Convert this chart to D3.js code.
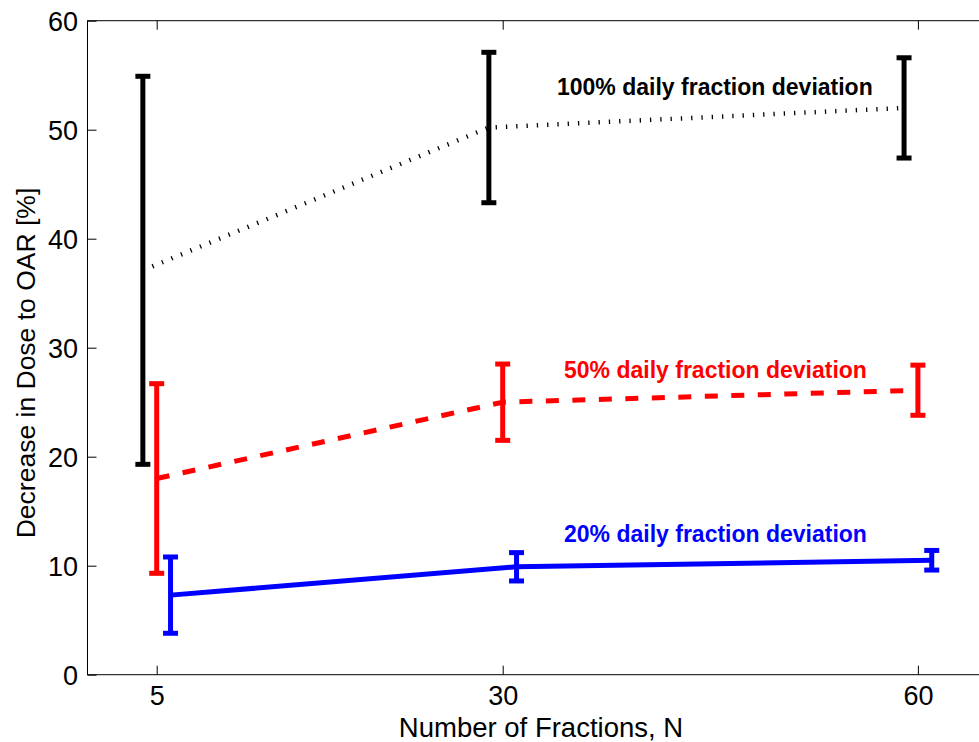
<!DOCTYPE html>
<html>
<head>
<meta charset="utf-8">
<script src="https://cdn.jsdelivr.net/npm/d3@7"></script>
<style>
  html, body { margin: 0; padding: 0; background: #fff; }
  svg { display: block; }
  text { font-family: "Liberation Sans", Arial, Helvetica, sans-serif; }
</style>
</head>
<body>
<svg id="chart" width="979" height="742"></svg>
<script>
// Fraction counts shown on the x axis
const xTicks = [5, 30, 60];
const yTicks = [0, 10, 20, 30, 40, 50, 60];

// Each series is plotted slightly offset in x so the error bars don't overlap
const xBlack = [4, 29, 59];
const xRed = [5, 30, 60];
const xBlue = [6, 31, 61];

// Mean decrease in OAR dose [%] and half-width of the error bars
const meanBlack = [37.1, 50.2, 52.0];
const errBlack = [17.8, 6.9, 4.6];
const meanRed = [18.0, 25.0, 26.1];
const errRed = [8.7, 3.5, 2.3];
const meanBlue = [7.3, 9.9, 10.5];
const errBlue = [3.5, 1.3, 0.9];

const seriesLabels = [
  "100% daily fraction deviation",
  "50% daily fraction deviation",
  "20% daily fraction deviation"
];

const svg = d3.select("#chart");
const W = 979, H = 742;
svg.append("rect").attr("width", W).attr("height", H).attr("fill", "#fff");

const plotLeft = 87.5, plotTop = 20.7, plotBottom = 674.7;
const pxPerUnit = 13.84;
const x = d3.scaleLinear().domain([0, 65]).range([plotLeft, plotLeft + 65 * pxPerUnit]);
const y = d3.scaleLinear().domain([0, 60]).range([plotBottom, plotTop]);

const tickFont = 27;

// Axes box (right edge falls beyond the canvas)
const axisG = svg.append("g");
axisG.append("rect")
  .attr("x", x(0)).attr("y", y(60))
  .attr("width", x(65) - x(0)).attr("height", y(0) - y(60))
  .attr("fill", "none").attr("stroke", "#000").attr("stroke-width", 1);

// Bottom axis with inward ticks, mirrored on top
const xAxisB = d3.axisBottom(x).tickValues(xTicks).tickSize(-9).tickFormat(d3.format("d"));
const gxb = axisG.append("g").attr("transform", `translate(0,${y(0)})`).call(xAxisB);
gxb.select(".domain").remove();
gxb.selectAll("line").attr("stroke", "#000");
gxb.selectAll("text").attr("font-size", tickFont).attr("fill", "#000")
  .attr("y", 30.8).attr("dy", null);

const xAxisT = d3.axisTop(x).tickValues(xTicks).tickSize(-9).tickFormat("");
const gxt = axisG.append("g").attr("transform", `translate(0,${y(60)})`).call(xAxisT);
gxt.select(".domain").remove();
gxt.selectAll("line").attr("stroke", "#000");

// Left axis with inward ticks
const yAxisL = d3.axisLeft(y).tickValues(yTicks).tickSize(-9).tickFormat(d3.format("d"));
const gyl = axisG.append("g").attr("transform", `translate(${x(0)},0)`).call(yAxisL);
gyl.select(".domain").remove();
gyl.selectAll("line").attr("stroke", "#000");
gyl.selectAll("text").attr("font-size", tickFont).attr("fill", "#000")
  .attr("x", -9.5).attr("dy", "0.35em");

// Axis titles
svg.append("text")
  .attr("x", 541).attr("y", 736.5)
  .attr("text-anchor", "middle").attr("font-size", 27.5).attr("fill", "#000")
  .text("Number of Fractions, N");

svg.append("text")
  .attr("transform", "translate(35,363) rotate(-90)")
  .attr("text-anchor", "middle").attr("font-size", 26.5).attr("fill", "#000")
  .text("Decrease in Dose to OAR [%]");

// Series drawing
const series = [
  { xs: xBlack, mean: meanBlack, err: errBlack, color: "#000", dash: "1.3 9", width: 4.5, label: seriesLabels[0], lx: 557, ly: 95 },
  { xs: xRed, mean: meanRed, err: errRed, color: "#ff0000", dash: "13 13.5", width: 5, label: seriesLabels[1], lx: 564, ly: 378.3 },
  { xs: xBlue, mean: meanBlue, err: errBlue, color: "#0000ff", dash: null, width: 5, label: seriesLabels[2], lx: 564, ly: 541.7 }
];

const line = d3.line().x(d => x(d[0])).y(d => y(d[1]));
const capHalf = 7.5;

series.forEach(s => {
  const g = svg.append("g");
  const pts = s.xs.map((xv, i) => [xv, s.mean[i], s.err[i]]);

  // error bars
  pts.forEach(([xv, m, e]) => {
    const cx = x(xv);
    g.append("line")
      .attr("x1", cx).attr("x2", cx).attr("y1", y(m + e)).attr("y2", y(m - e))
      .attr("stroke", s.color).attr("stroke-width", 5);
    [m + e, m - e].forEach(v => {
      g.append("line")
        .attr("x1", cx - capHalf).attr("x2", cx + capHalf)
        .attr("y1", y(v)).attr("y2", y(v))
        .attr("stroke", s.color).attr("stroke-width", 5);
    });
  });

  // mean line
  g.append("path")
    .attr("d", line(pts))
    .attr("fill", "none")
    .attr("stroke", s.color)
    .attr("stroke-width", s.width)
    .attr("stroke-dasharray", s.dash)
    .attr("stroke-linecap", "butt");

  // series label
  svg.append("text")
    .attr("x", s.lx).attr("y", s.ly)
    .attr("font-size", 23).attr("font-weight", "bold").attr("fill", s.color)
    .text(s.label);
});
</script>
</body>
</html>
